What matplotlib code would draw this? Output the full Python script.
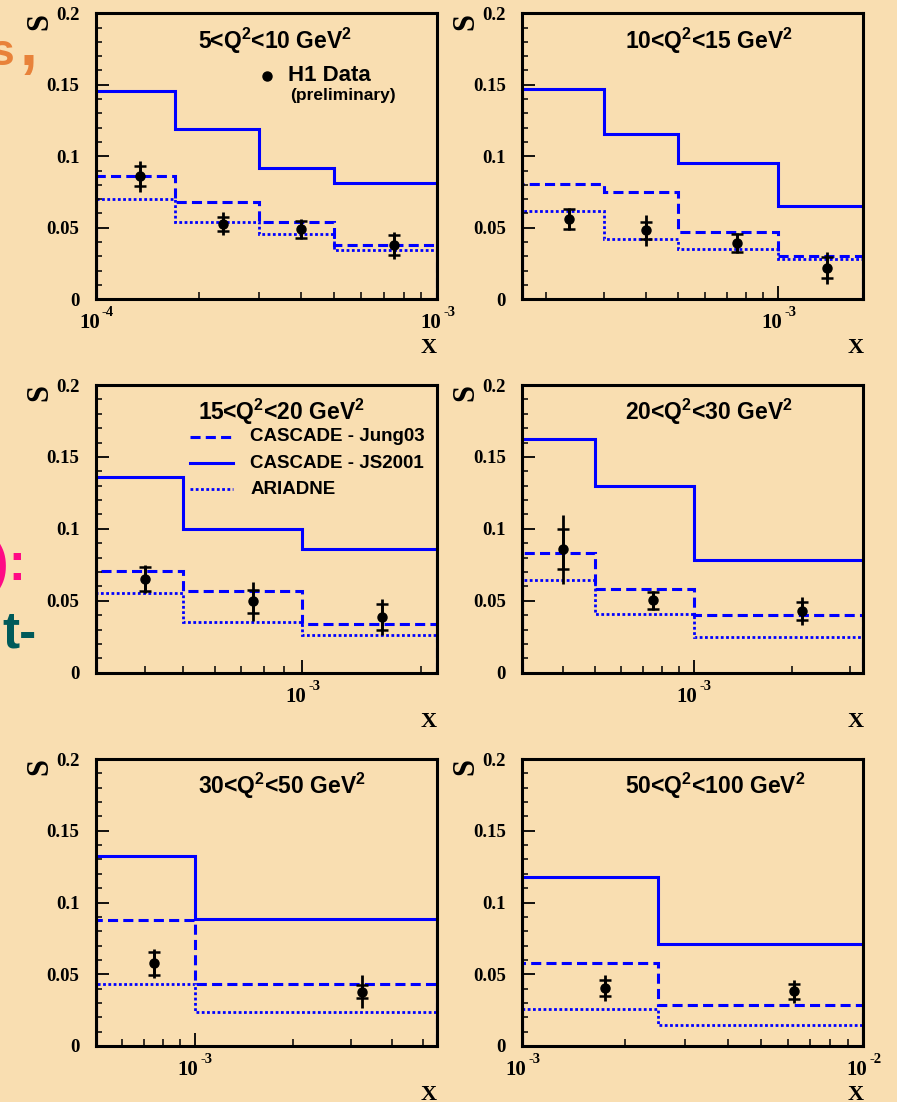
import math
import matplotlib
matplotlib.use("Agg")
import matplotlib.pyplot as plt
from matplotlib.ticker import FixedLocator, NullFormatter, FixedFormatter
from matplotlib.transforms import blended_transform_factory, offset_copy

# ---------------- data ----------------
titles = ["5<Q$^2$<10 GeV$^2$", "10<Q$^2$<15 GeV$^2$", "15<Q$^2$<20 GeV$^2$",
          "20<Q$^2$<30 GeV$^2$", "30<Q$^2$<50 GeV$^2$", "50<Q$^2$<100 GeV$^2$"]

x_limits = [(1e-4, 1e-3), (1.7e-4, 1.8e-3), (3e-4, 2.2e-3),
            (3e-4, 3.3e-3), (5e-4, 5.5e-3), (1e-3, 1e-2)]

bin_edges = [[1e-4, 1.7e-4, 3e-4, 5e-4, 1e-3],
             [1.7e-4, 3e-4, 5e-4, 1e-3, 1.8e-3],
             [3e-4, 5e-4, 1e-3, 2.2e-3],
             [3e-4, 5e-4, 1e-3, 3.3e-3],
             [5e-4, 1e-3, 5.5e-3],
             [1e-3, 2.5e-3, 1e-2]]

cascade_js2001 = [[0.1457, 0.119, 0.092, 0.081],
                  [0.147, 0.1158, 0.0953, 0.0652],
                  [0.136, 0.0997, 0.0858],
                  [0.1625, 0.1296, 0.0781],
                  [0.1322, 0.0883],
                  [0.1176, 0.0709]]

cascade_jung03 = [[0.0862, 0.068, 0.054, 0.038],
                  [0.0808, 0.075, 0.047, 0.0303],
                  [0.0707, 0.0566, 0.0336],
                  [0.0834, 0.0582, 0.0401],
                  [0.088, 0.043],
                  [0.0578, 0.0286]]

ariadne = [[0.070, 0.054, 0.0455, 0.0345],
           [0.0617, 0.0422, 0.0352, 0.0282],
           [0.0552, 0.035, 0.0264],
           [0.0644, 0.041, 0.0246],
           [0.0434, 0.0235],
           [0.0256, 0.0146]]

data_x = [[1.35e-4, 2.35e-4, 4e-4, 7.5e-4],
          [2.35e-4, 4e-4, 7.5e-4, 1.4e-3],
          [4e-4, 7.5e-4, 1.6e-3],
          [4e-4, 7.5e-4, 2.14e-3],
          [7.5e-4, 3.25e-3],
          [1.75e-3, 6.25e-3]]

data_y = [[0.086, 0.0527, 0.049, 0.0378],
          [0.0562, 0.0483, 0.0394, 0.0221],
          [0.0651, 0.0496, 0.039],
          [0.0858, 0.0503, 0.0429],
          [0.0576, 0.0379],
          [0.0404, 0.038]]

stat_err = [[0.007, 0.005, 0.006, 0.007],
            [0.007, 0.006, 0.006, 0.0075],
            [0.0085, 0.008, 0.009],
            [0.014, 0.006, 0.0065],
            [0.0078, 0.0045],
            [0.0058, 0.005]]

total_err = [[0.011, 0.008, 0.007, 0.0095],
             [0.0075, 0.011, 0.0068, 0.0113],
             [0.0097, 0.0135, 0.0125],
             [0.024, 0.0065, 0.0095],
             [0.0101, 0.0116],
             [0.0092, 0.0078]]

y_ticks = [0, 0.05, 0.1, 0.15, 0.2]
y_ticklabels = ["0", "0.05", "0.1", "0.15", "0.2"]
legend_labels = ["CASCADE - Jung03", "CASCADE - JS2001", "ARIADNE"]
data_label = "H1 Data"
data_sublabel = "(preliminary)"

# ---------------- style ----------------
BG = "#F9DEB1"
BLUE = "#0000FF"
SERIF = "Liberation Serif"
SANS = "Liberation Sans"
plt.rcParams["mathtext.fontset"] = "custom"
plt.rcParams["mathtext.rm"] = "Liberation Sans:bold"
plt.rcParams["mathtext.bf"] = "Liberation Serif:bold"
plt.rcParams["mathtext.it"] = "Liberation Sans:bold"

W, H = 897, 1102
fig = plt.figure(figsize=(W / 100, H / 100), dpi=100, facecolor=BG)

cols = [(96, 437), (522.3, 863.3)]
rows = [(13.3, 299.3), (385, 672.7), (759, 1046)]

solid_kw = dict(color=BLUE, lw=2.2, linestyle="-")
dash_kw = dict(color=BLUE, lw=2.2, linestyle=(0, (3.3, 1.7)))
dot_kw = dict(color=BLUE, lw=2.0, linestyle=(0, (1.0, 0.9)))

axes = []
for i in range(6):
    (L, R) = cols[i % 2]
    (T, B) = rows[i // 2]
    ax = fig.add_axes([L / W, 1 - B / H, (R - L) / W, (B - T) / H])
    ax.set_facecolor(BG)
    ax.set_xscale("log")
    ax.set_xlim(*x_limits[i])
    ax.set_ylim(0, 0.2)

    # histograms
    ax.stairs(cascade_js2001[i], bin_edges[i], baseline=0, **solid_kw)
    ax.stairs(cascade_jung03[i], bin_edges[i], baseline=0, **dash_kw)
    ax.stairs(ariadne[i], bin_edges[i], baseline=0, **dot_kw)

    # data points: total error line + stat error ticks
    ax.errorbar(data_x[i], data_y[i], yerr=total_err[i], fmt="none",
                ecolor="black", elinewidth=2.0, capsize=0, zorder=5)
    ax.errorbar(data_x[i], data_y[i], yerr=stat_err[i], fmt="o", color="black",
                ms=6.5, elinewidth=2.0, capsize=4, capthick=1.8, zorder=6)

    # frame
    for s in ax.spines.values():
        s.set_linewidth(2.2)
        s.set_color("black")

    # y axis ticks
    ax.yaxis.set_major_locator(FixedLocator(y_ticks))
    ax.yaxis.set_major_formatter(FixedFormatter(y_ticklabels))
    ax.yaxis.set_minor_locator(FixedLocator([k / 100 for k in range(21)]))
    ax.tick_params(axis="y", which="major", direction="in", length=9.5, width=1.3,
                   left=True, right=False, pad=12)
    ax.tick_params(axis="y", which="minor", direction="in", length=4.5, width=1.1,
                   left=True, right=False)
    for lab in ax.get_yticklabels():
        lab.set_fontfamily(SERIF)
        lab.set_fontweight("bold")
        lab.set_fontsize(13.5)

    # x axis ticks (log)
    lo, hi = x_limits[i]
    majors = [10.0 ** e for e in range(-5, 0) if lo * 0.999 <= 10.0 ** e <= hi * 1.001]
    minors = [m * 10.0 ** e for e in range(-5, -1) for m in range(2, 10)
              if lo < m * 10.0 ** e < hi]
    ax.xaxis.set_major_locator(FixedLocator(majors))
    ax.xaxis.set_minor_locator(FixedLocator(minors))
    ax.xaxis.set_major_formatter(NullFormatter())
    ax.xaxis.set_minor_formatter(NullFormatter())
    ax.tick_params(axis="x", which="major", direction="in", length=9.5, width=1.3,
                   bottom=True, top=False)
    ax.tick_params(axis="x", which="minor", direction="in", length=5, width=1.1,
                   bottom=True, top=False)
    base = blended_transform_factory(ax.transData, ax.transAxes)
    t_base = offset_copy(base, fig=fig, x=4, y=-14, units="dots")
    t_exp = offset_copy(base, fig=fig, x=6, y=-7, units="dots")
    for v in majors:
        ax.text(v, 0, "10", transform=t_base, ha="right", va="top",
                fontfamily=SERIF, fontweight="bold", fontsize=15, clip_on=False)
        ax.text(v, 0, "-%d" % round(-math.log10(v)), transform=t_exp, ha="left",
                va="top", fontfamily=SERIF, fontweight="bold", fontsize=10.5,
                clip_on=False)

    h = B - T
    wdt = R - L
    # axis labels
    ax.text(-56 / wdt, 1 - 8 / h, "S", transform=ax.transAxes, rotation=90,
            ha="center", va="center", fontfamily=SERIF, fontweight="bold", fontsize=22)
    ax.text(1.0, -49 / h, "X", transform=ax.transAxes, ha="right", va="center",
            fontfamily=SERIF, fontweight="bold", fontsize=16)
    # title
    ax.text(0.3, 0.877, titles[i], transform=ax.transAxes, ha="left", va="baseline",
            fontfamily=SANS, fontweight="bold", fontsize=16.5)
    axes.append(ax)

# legend for data (panel 1)
ax = axes[0]
ax.plot([0.5], [0.781], "o", color="black", ms=6.5, transform=ax.transAxes)
ax.text(0.563, 0.781, data_label, transform=ax.transAxes, ha="left", va="center",
        fontfamily=SANS, fontweight="bold", fontsize=16)
ax.text(0.569, 0.714, data_sublabel, transform=ax.transAxes, ha="left", va="center",
        fontfamily=SANS, fontweight="bold", fontsize=12.5)

# legend for models (panel 3)
ax = axes[2]
leg_styles = [dash_kw, solid_kw, dot_kw]
leg_y = [0.82, 0.728, 0.637]
for lab, sty, yy in zip(legend_labels, leg_styles, leg_y):
    ax.plot([0.276, 0.402], [yy, yy], transform=ax.transAxes, **sty)
    ax.text(0.452, yy, lab, transform=ax.transAxes, ha="left", va="center",
            fontfamily=SANS, fontweight="bold", fontsize=13.5)

# cut-off slide text at left edge
fig.text(14 / W, 1 - 65 / H, "s", ha="right", va="baseline", color="#E8823A",
         fontfamily=SANS, fontweight="bold", fontsize=32)
fig.text(20 / W, 1 - 65 / H, ",", ha="left", va="baseline", color="#E8823A",
         fontfamily=SANS, fontweight="bold", fontsize=46)
fig.text(-9 / W, 1 - 580 / H, "):", ha="left", va="baseline", color="#FF0A85",
         fontfamily=SANS, fontweight="bold", fontsize=38)
fig.text(2 / W, 1 - 648 / H, "t-", ha="left", va="baseline", color="#005A5A",
         fontfamily=SANS, fontweight="bold", fontsize=37)

fig.savefig("out.png", dpi=100, facecolor=BG)
